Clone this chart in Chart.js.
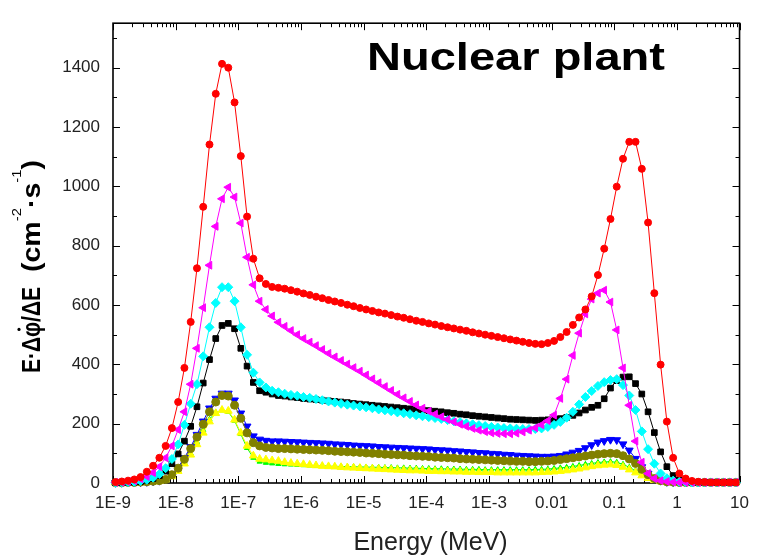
<!DOCTYPE html>
<html>
<head>
<meta charset="utf-8">
<script src="https://cdn.jsdelivr.net/npm/chart.js@4.4.0/dist/chart.umd.min.js"></script>
<style>
    body { margin: 0; background: #ffffff; }
    #box { width: 759px; height: 556px; }
</style>
</head>
<body>
<div id="box"><canvas id="grafico"></canvas></div>
<script>
// energy bins (MeV), 10 per decade
const energy = [
    1.096e-9, 1.380e-9, 1.738e-9, 2.188e-9, 2.754e-9, 3.467e-9, 4.365e-9, 5.495e-9, 6.918e-9, 8.710e-9,
    1.096e-8, 1.380e-8, 1.738e-8, 2.188e-8, 2.754e-8, 3.467e-8, 4.365e-8, 5.495e-8, 6.918e-8, 8.710e-8,
    1.096e-7, 1.380e-7, 1.738e-7, 2.188e-7, 2.754e-7, 3.467e-7, 4.365e-7, 5.495e-7, 6.918e-7, 8.710e-7,
    1.096e-6, 1.380e-6, 1.738e-6, 2.188e-6, 2.754e-6, 3.467e-6, 4.365e-6, 5.495e-6, 6.918e-6, 8.710e-6,
    1.096e-5, 1.380e-5, 1.738e-5, 2.188e-5, 2.754e-5, 3.467e-5, 4.365e-5, 5.495e-5, 6.918e-5, 8.710e-5,
    1.096e-4, 1.380e-4, 1.738e-4, 2.188e-4, 2.754e-4, 3.467e-4, 4.365e-4, 5.495e-4, 6.918e-4, 8.710e-4,
    1.096e-3, 1.380e-3, 1.738e-3, 2.188e-3, 2.754e-3, 3.467e-3, 4.365e-3, 5.495e-3, 6.918e-3, 8.710e-3,
    1.096e-2, 1.380e-2, 1.738e-2, 2.188e-2, 2.754e-2, 3.467e-2, 4.365e-2, 5.495e-2, 6.918e-2, 8.710e-2,
    1.096e-1, 1.380e-1, 1.738e-1, 2.188e-1, 2.754e-1, 3.467e-1, 4.365e-1, 5.495e-1, 6.918e-1, 8.710e-1,
    1.096, 1.380, 1.738, 2.188, 2.754, 3.467, 4.365, 5.495, 6.918, 8.710
];

const xTickValues = [1e-9, 1e-8, 1e-7, 1e-6, 1e-5, 1e-4, 1e-3, 0.01, 0.1, 1, 10];
const xTickLabels = ['1E-9', '1E-8', '1E-7', '1E-6', '1E-5', '1E-4', '1E-3', '0.01', '0.1', '1', '10'];
const yTickValues = [0, 200, 400, 600, 800, 1000, 1200, 1400];
const yTickLabels = ['0', '200', '400', '600', '800', '1000', '1200', '1400'];

const redValues = [
    3, 5, 8, 12, 20, 38, 58, 85, 125, 185,
    273, 388, 543, 724, 931, 1141, 1312, 1413, 1400, 1283,
    1102, 898, 756, 690, 671, 661, 658, 655, 650, 645,
    639, 634, 628, 623, 617, 612, 607, 601, 596, 590,
    585, 580, 575, 571, 566, 561, 557, 552, 547, 543,
    538, 534, 529, 525, 521, 517, 513, 508, 504, 500,
    496, 492, 488, 484, 480, 476, 472, 469, 468, 472,
    479, 492, 509, 533, 558, 585, 629, 701, 790, 890,
    999, 1093, 1150, 1150, 1059, 878, 640, 399, 207, 85,
    32, 15, 7, 4, 3, 2, 2, 2, 2, 2
];
const magentaValues = [
    2, 3, 5, 8, 14, 22, 35, 55, 85, 125,
    180, 240, 333, 454, 591, 734, 865, 958, 997, 964,
    876, 761, 668, 613, 585, 563, 542, 528, 514, 500,
    487, 475, 463, 450, 437, 425, 413, 401, 389, 377,
    364, 351, 338, 325, 312, 299, 287, 275, 263, 252,
    242, 232, 223, 214, 206, 198, 191, 184, 178, 173,
    169, 167, 166, 166, 168, 172, 178, 186, 196, 210,
    229, 285, 350, 430, 505, 570, 620, 640, 650, 610,
    516, 388, 262, 141, 70, 32, 15, 8, 5, 3,
    2, 2, 2, 2, 2, 2, 2, 2, 2, 2
];
const cyanValues = [
    1, 2, 3, 4, 7, 11, 18, 30, 50, 81,
    130, 196, 267, 333, 427, 525, 607, 660, 660, 613,
    525, 432, 372, 339, 322, 311, 306, 301, 297, 294,
    290, 287, 283, 279, 275, 271, 267, 264, 261, 258,
    255, 252, 248, 245, 242, 238, 235, 232, 228, 225,
    222, 219, 216, 212, 208, 205, 201, 198, 195, 192,
    189, 187, 185, 184, 183, 182, 182, 182, 184, 189,
    196, 206, 220, 240, 265, 290, 310, 327, 340, 347,
    350, 330, 295, 246, 174, 114, 65, 32, 16, 8,
    4, 3, 2, 2, 2, 2, 2, 2, 2, 2
];
const blackValues = [
    1, 1, 2, 3, 5, 9, 15, 25, 40, 65,
    98, 141, 191, 257, 337, 416, 487, 531, 538, 520,
    454, 394, 339, 311, 306, 300, 295, 293, 290, 288,
    285, 283, 281, 279, 277, 275, 273, 271, 268, 266,
    264, 262, 260, 258, 256, 254, 252, 250, 248, 246,
    244, 242, 240, 237, 235, 232, 230, 227, 225, 223,
    221, 219, 217, 215, 214, 213, 212, 211, 212, 213,
    214, 217, 221, 228, 236, 246, 255, 262, 284, 320,
    345, 357, 358, 335, 300, 240, 170, 105, 55, 25,
    10, 5, 3, 2, 2, 2, 2, 2, 2, 2
];
const blueValues = [
    1, 1, 2, 2, 3, 4, 6, 8, 13, 30,
    53, 85, 122, 163, 208, 252, 285, 302, 302, 279,
    235, 191, 158, 147, 143, 141, 141, 140, 139, 138,
    137, 136, 135, 134, 133, 131, 130, 129, 127, 126,
    125, 124, 122, 121, 120, 119, 118, 117, 116, 115,
    114, 112, 111, 110, 108, 107, 105, 104, 102, 101,
    99, 98, 96, 95, 93, 92, 91, 90, 89, 89,
    90, 92, 97, 103, 109, 118, 128, 137, 142, 146,
    145, 131, 110, 82, 54, 32, 16, 8, 4, 3,
    2, 2, 2, 2, 2, 2, 2, 2, 2, 2
];
const oliveValues = [
    1, 1, 2, 2, 3, 4, 6, 8, 12, 28,
    50, 80, 116, 155, 198, 240, 273, 295, 293, 262,
    218, 169, 136, 125, 120, 118, 116, 116, 115, 114,
    113, 112, 111, 110, 109, 107, 106, 105, 104, 103,
    101, 100, 99, 97, 96, 95, 94, 92, 91, 90,
    89, 87, 86, 85, 84, 82, 81, 80, 79, 78,
    77, 76, 75, 74, 73, 73, 72, 72, 73, 74,
    76, 79, 82, 85, 88, 91, 94, 97, 99, 100,
    99, 92, 81, 66, 46, 28, 15, 8, 4, 3,
    2, 2, 2, 2, 2, 2, 2, 2, 2, 2
];
const greenValues = [
    1, 1, 1, 2, 2, 3, 5, 7, 13, 25,
    44, 70, 100, 138, 178, 215, 238, 245, 240, 210,
    165, 118, 85, 72, 68, 66, 64, 63, 62, 61,
    60, 59, 58, 58, 57, 56, 56, 55, 55, 54,
    54, 53, 53, 52, 52, 51, 51, 50, 50, 49,
    49, 48, 48, 47, 47, 47, 46, 46, 46, 45,
    45, 45, 45, 45, 45, 45, 45, 46, 46, 47,
    49, 51, 53, 56, 59, 63, 66, 69, 71, 72,
    70, 63, 53, 41, 29, 18, 10, 5, 3, 2,
    1, 1, 1, 1, 1, 1, 1, 1, 1, 1
];
const yellowValues = [
    1, 1, 1, 1, 2, 3, 4, 6, 11, 22,
    40, 65, 95, 130, 169, 207, 235, 246, 243, 213,
    169, 125, 92, 81, 79, 76, 74, 70, 67, 65,
    63, 61, 59, 57, 56, 55, 53, 52, 51, 50,
    49, 48, 47, 46, 45, 44, 43, 42, 42, 41,
    40, 40, 39, 39, 38, 38, 37, 37, 36, 36,
    36, 35, 35, 35, 35, 35, 35, 35, 36, 37,
    38, 40, 42, 45, 48, 52, 56, 59, 61, 62,
    60, 54, 45, 35, 25, 16, 9, 5, 3, 2,
    1, 1, 1, 1, 1, 1, 1, 1, 1, 1
];

function serie(valores, cor, estilo, raio, rotacao) {
    return {
        data: energy.map((e, i) => ({ x: e, y: valores[i] })),
        showLine: true,
        borderColor: cor,
        backgroundColor: cor,
        borderWidth: 1,
        pointStyle: estilo,
        pointRadius: raio,
        pointRotation: rotacao || 0,
        pointBorderWidth: 1,
        pointBorderColor: cor,
        pointBackgroundColor: cor,
        clip: false
    };
}

function linha(ctx, x1, y1, x2, y2) {
    ctx.beginPath();
    ctx.moveTo(x1, y1);
    ctx.lineTo(x2, y2);
    ctx.stroke();
}

// draws rotated text pieces, squeezed to a given length; returns the scale used
function textoVertical(ctx, partes, baseX, inicioY, comprimento) {
    let total = 0;
    partes.forEach(p => { ctx.font = p[1]; total += ctx.measureText(p[0]).width; });
    const k = comprimento / total;
    ctx.save();
    ctx.translate(baseX, inicioY);
    ctx.rotate(-Math.PI / 2);
    ctx.scale(k, 1);
    let u = 0;
    partes.forEach(p => {
        ctx.font = p[1];
        ctx.fillText(p[0], u, p[2]);
        u += ctx.measureText(p[0]).width;
    });
    ctx.restore();
    return k;
}

const moldura = {
    id: 'moldura',
    beforeDatasetsDraw(chart) {
        const ctx = chart.ctx;
        const a = chart.chartArea;
        const x = chart.scales.x;
        const y = chart.scales.y;
        ctx.save();
        ctx.strokeStyle = '#000';
        ctx.lineWidth = 1;
        // log minor/major ticks, inside, top and bottom
        for (let d = -9; d <= 1; d++) {
            for (let m = 1; m <= 9; m++) {
                const v = m * Math.pow(10, d);
                if (v > 10.0001) break;
                const px = Math.round(x.getPixelForValue(v)) + 0.5;
                const len = m === 1 ? 7 : 4;
                linha(ctx, px, a.bottom, px, a.bottom - len);
                linha(ctx, px, a.top, px, a.top + len);
            }
        }
        for (let v = 0; v <= 1500; v += 100) {
            const py = Math.round(y.getPixelForValue(v)) + 0.5;
            const len = v % 200 === 0 ? 7 : 4;
            linha(ctx, a.left, py, a.left + len, py);
            linha(ctx, a.right, py, a.right - len, py);
        }
        ctx.lineWidth = 1.6;
        ctx.strokeRect(a.left, a.top, a.right - a.left, a.bottom - a.top);
        ctx.restore();
    },
    afterDraw(chart) {
        const ctx = chart.ctx;
        ctx.save();
        ctx.fillStyle = '#000';
        ctx.textBaseline = 'alphabetic';
        ctx.textAlign = 'left';

        // big label inside the plot
        ctx.font = 'bold 38px "Liberation Sans"';
        const w = ctx.measureText('Nuclear plant').width;
        ctx.save();
        ctx.translate(367, 70);
        ctx.scale(298 / w, 1);
        ctx.fillText('Nuclear plant', 0, 0);
        ctx.restore();

        // y axis title
        const forte = 'bold 25px "Liberation Sans"';
        const sup = '13px "Liberation Sans"';
        const k = textoVertical(ctx, [['E·Δφ/ΔE', forte, 0]], 40, 373, 86);
        ctx.font = forte;
        const antes = ctx.measureText('E·Δ').width;
        const phi = ctx.measureText('φ').width;
        ctx.beginPath();
        ctx.arc(40 - 21, 373 - (antes + phi / 2) * k, 1.6, 0, Math.PI * 2);
        ctx.fill();
        textoVertical(ctx, [['(cm', forte, 0], ['-2', sup, -19], ['·s', forte, 0], ['-1', sup, -19], [')', forte, 0]], 40, 272, 112);

        // x axis title
        ctx.fillStyle = '#222';
        ctx.font = '25px "Liberation Sans"';
        ctx.textAlign = 'center';
        ctx.fillText('Energy (MeV)', 430.5, 550);
        ctx.restore();
    }
};

const fonteEixo = { family: 'Liberation Sans', size: 17 };

new Chart(document.getElementById('grafico'), {
    type: 'scatter',
    data: {
        datasets: [
            serie(redValues, '#ff0000', 'circle', 3.5),
            serie(magentaValues, '#ff00ff', 'triangle', 4.5, 270),
            serie(cyanValues, '#00ffff', 'rectRot', 4.5),
            serie(blackValues, '#000000', 'rect', 4),
            serie(oliveValues, '#808000', 'circle', 4),
            serie(blueValues, '#0000ff', 'triangle', 4.5, 180),
            serie(yellowValues, '#ffff00', 'triangle', 4.5),
            serie(greenValues, '#00ff00', 'triangle', 3)
        ]
    },
    options: {
        responsive: true,
        maintainAspectRatio: false,
        animation: false,
        events: [],
        layout: {
            padding: { left: 0, right: 11, top: 12, bottom: 0 }
        },
        plugins: {
            legend: { display: false },
            tooltip: { enabled: false }
        },
        scales: {
            x: {
                type: 'logarithmic',
                min: 1e-9,
                max: 10,
                grid: { display: false, drawTicks: false },
                border: { display: false },
                afterBuildTicks: (s) => { s.ticks = xTickValues.map(v => ({ value: v })); },
                afterFit: (s) => { s.height = 73; },
                ticks: {
                    autoSkip: false,
                    maxRotation: 0,
                    padding: 10,
                    color: '#222',
                    font: fonteEixo,
                    callback: (v, i) => xTickLabels[i]
                }
            },
            y: {
                type: 'linear',
                min: 0,
                max: 1550,
                grid: { display: false, drawTicks: false },
                border: { display: false },
                afterBuildTicks: (s) => { s.ticks = yTickValues.map(v => ({ value: v })); },
                afterFit: (s) => { s.width = 113; },
                ticks: {
                    padding: 13,
                    color: '#222',
                    font: fonteEixo,
                    callback: (v, i) => yTickLabels[i]
                }
            }
        }
    },
    plugins: [moldura]
});
</script>
</body>
</html>
